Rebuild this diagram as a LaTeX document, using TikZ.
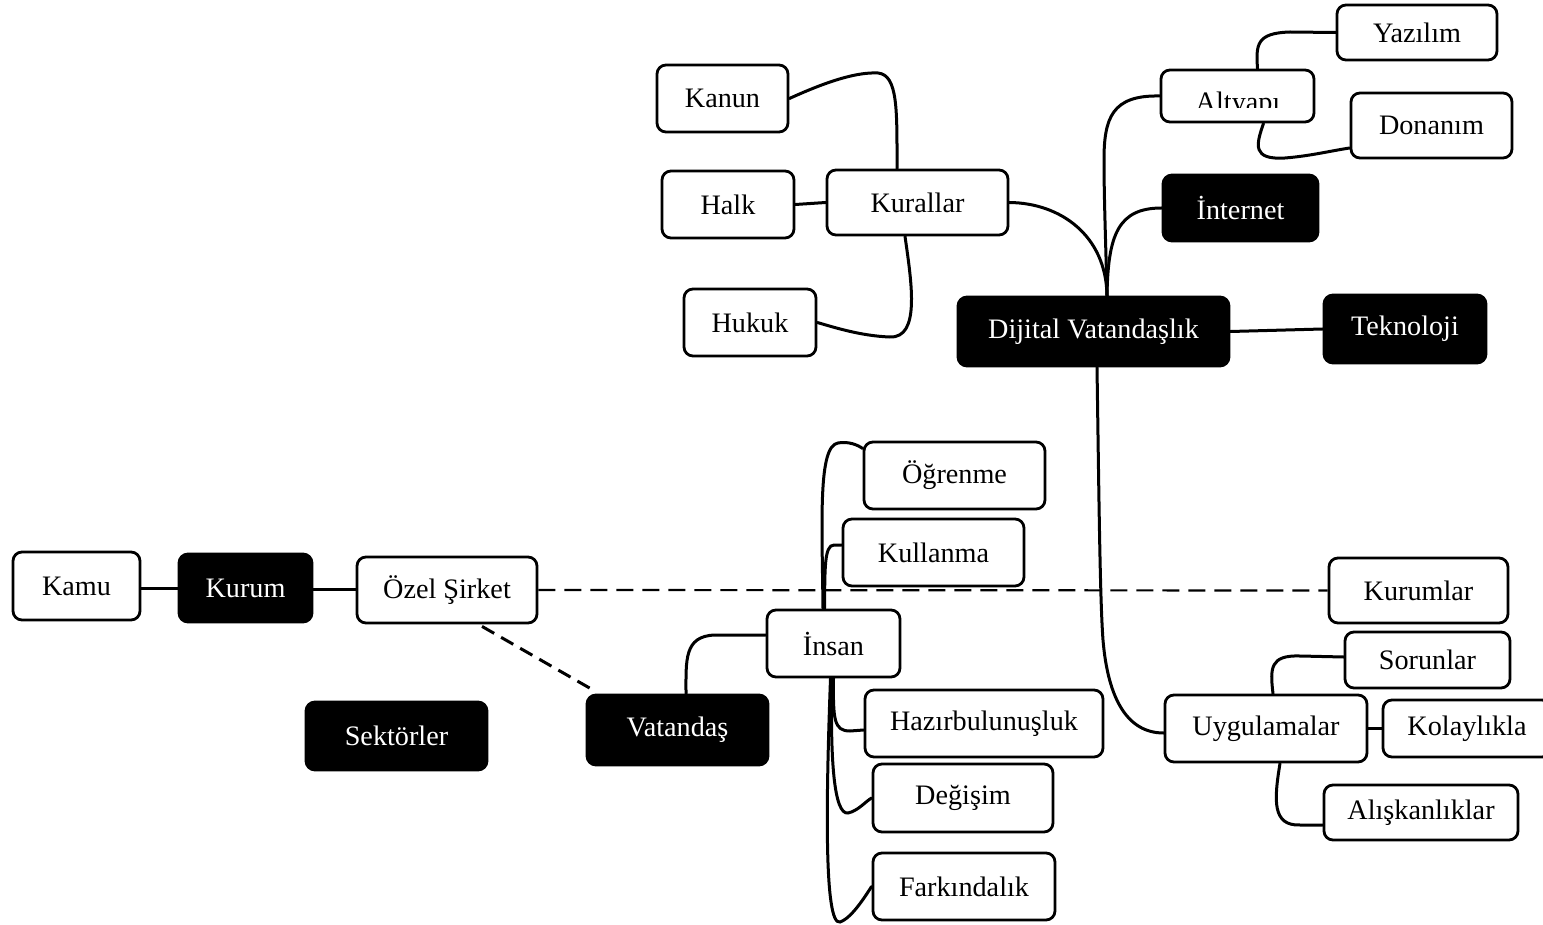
\documentclass[tikz,border=0pt]{standalone}
\usepackage{fontspec}
\setmainfont{Liberation Serif}
\usetikzlibrary{calc}
\begin{document}
\begin{tikzpicture}[x=1pt,y=-1pt,
  box/.style={draw=black, line width=2.8pt, rounded corners=9pt, fill=white,
    text=black, inner sep=0pt, font=\fontsize{28.2}{30}\selectfont},
  dark/.style={box, fill=black, text=white},
  link/.style={line width=3pt, line cap=round},
  dashlink/.style={line width=2.2pt, dash pattern=on 17pt off 9pt}]

\fill[white] (0,0) rectangle (1543,925);
\useasboundingbox (0,0) rectangle (1543,925);

% --- centre and branches on the right
\node[dark, minimum width=271pt, minimum height=69pt] (dijital) at (1093.5,331.5) {Dijital Vatandaşlık};
\node[dark, minimum width=162pt, minimum height=68pt] (teknoloji) at (1405,329) {Teknoloji};
\node[dark, minimum width=155pt, minimum height=66pt] (internet) at (1240.5,208) {İnternet};
\node[box, minimum width=153pt, minimum height=52pt] (altyapi) at (1237.5,96) {};
\begin{scope}
  \clip (1161,70) rectangle (1314,108);
  \node[font=\fontsize{28.2}{30}\selectfont, anchor=base, inner sep=0pt] (altyapitext) at (1238,112) {Altyapı};
\end{scope}
\node[box, minimum width=160pt, minimum height=55pt] (yazilim) at (1417,32.5) {Yazılım};
\node[box, minimum width=161pt, minimum height=65pt] (donanim) at (1431.5,125.5) {Donanım};

% --- rules
\node[box, minimum width=181pt, minimum height=65pt] (kurallar) at (917.5,202.5) {Kurallar};
\node[box, minimum width=131pt, minimum height=67pt] (kanun) at (722.5,98.5) {Kanun};
\node[box, minimum width=132pt, minimum height=67pt] (halk) at (728,204.5) {Halk};
\node[box, minimum width=132pt, minimum height=67pt] (hukuk) at (750,322.5) {Hukuk};

% --- applications
\node[box, minimum width=202pt, minimum height=67pt] (uyg) at (1266,728.5) {Uygulamalar};
\node[box, minimum width=179pt, minimum height=65pt] (kurumlar) at (1418.5,590.5) {Kurumlar};
\node[box, minimum width=165pt, minimum height=56pt] (sorunlar) at (1427.5,660) {Sorunlar};
\node[box, minimum width=168pt, minimum height=57pt] (kolay) at (1467,728.5) {Kolaylıkla};
\node[box, minimum width=194pt, minimum height=55pt] (alis) at (1421,812.5) {Alışkanlıklar};

% --- people
\node[box, minimum width=133pt, minimum height=67pt] (insan) at (833.5,643.5) {İnsan};
\node[box, minimum width=181pt, minimum height=67pt] (ogrenme) at (954.5,475.5) {Öğrenme};
\node[box, minimum width=181pt, minimum height=67pt] (kullanma) at (933.5,552.5) {Kullanma};
\node[box, minimum width=238pt, minimum height=67pt] (hazir) at (984,723.5) {Hazırbulunuşluk};
\node[box, minimum width=180pt, minimum height=68pt] (degisim) at (963,798) {Değişim};
\node[box, minimum width=182pt, minimum height=67pt] (farkindalik) at (964,886.5) {Farkındalık};

% --- sectors
\node[box, minimum width=127pt, minimum height=68pt] (kamu) at (76.5,586) {Kamu};
\node[dark, minimum width=133pt, minimum height=68pt] (kurum) at (245.5,588) {Kurum};
\node[box, minimum width=180pt, minimum height=66pt] (ozel) at (447,590) {Özel Şirket};
\node[dark, minimum width=181pt, minimum height=68pt] (sektorler) at (396.5,736) {Sektörler};
\node[dark, minimum width=181pt, minimum height=70pt] (vatandas) at (677.5,730) {Vatandaş};

% ================= connectors
% centre
\draw[link] (dijital.east) -- (teknoloji.west);
\draw[link] ($(dijital.north)+(13.5,0)$) .. controls (1106,235) and (1060,203) .. (kurallar.east);
\draw[link] ($(dijital.north)+(13.5,0)$) .. controls (1108,235) and (1118,208) .. (internet.west);
\draw[link] ($(dijital.north)+(13.5,0)$) .. controls (1106,250) and (1104,200) .. (1104,160)
   .. controls (1104,118) and (1112,95) .. (altyapi.west);
\draw[link] ($(altyapi.north)+(20,0)$) .. controls (1256,45) and (1256,33) .. (1290,32) -- (yazilim.west);
\draw[link] ($(altyapi.south)+(26,0)$) .. controls (1256,145) and (1252,160) .. (1285,158)
   .. controls (1310,156) and (1330,151) .. ($(donanim.west)+(0,22.5)$);

% rules
\draw[link] (kanun.east) .. controls (830,80) and (858,72) .. (878,73)
   .. controls (898,75) and (897,110) .. ($(kurallar.north)+(-20.5,0)$);
\draw[link] (halk.east) -- (kurallar.west);
\draw[link] ($(kurallar.south)+(-12.5,0)$) .. controls (912,285) and (920,338) .. (890,337)
   .. controls (862,336) and (836,328) .. (hukuk.east);

% applications
\draw[link] ($(dijital.south)+(3.5,0)$) .. controls (1099,500) and (1100,600) .. (1103,640)
   .. controls (1108,700) and (1128,733) .. ($(uyg.west)+(0,4.5)$);
\draw[link] ($(uyg.north)+(7,0)$) .. controls (1270,668) and (1270,655) .. (1300,656) -- ($(sorunlar.west)+(0,-3)$);
\draw[link] (uyg.east) -- (kolay.west);
\draw[link] ($(uyg.south)+(14,0)$) .. controls (1274,800) and (1272,826) .. (1300,825) -- ($(alis.west)+(0,12.5)$);

% people
\draw[link] ($(vatandas.north)+(8.5,0)$) .. controls (686,660) and (684,636) .. (715,635) -- ($(insan.west)+(0,-8.5)$);
\draw[link] ($(insan.north)+(-10.5,0)$) .. controls (822,520) and (818,446) .. (838,443)
   .. controls (848,441) and (858,445) .. ($(ogrenme.west)+(0,-27)$);
\draw[link] ($(insan.north)+(-9,0)$) .. controls (825,570) and (824,545) .. (834,545) -- ($(kullanma.west)+(0,-7.5)$);
\draw[link] (insan.south) .. controls (833,720) and (834,731) .. (850,731) -- ($(hazir.west)+(0,6.5)$);
\draw[link] ($(insan.south)+(-1.5,0)$) .. controls (830,760) and (834,815) .. (848,813)
   .. controls (858,811) and (866,801) .. (degisim.west);
\draw[link] ($(insan.south)+(-3,0)$) .. controls (826,800) and (824,926) .. (840,922)
   .. controls (852,918) and (866,895) .. (farkindalik.west);

% sectors
\draw[link] ($(kamu.east)+(0,2)$) -- (kurum.west);
\draw[link] ($(kurum.east)+(0,1)$) -- ($(ozel.west)+(0,-1)$);
\draw[dashlink] (ozel.east) -- (kurumlar.west);
\draw[line width=3pt, dash pattern=on 14pt off 8pt] ($(ozel.south)+(35,2)$) -- ($(vatandas.north west)+(5,-5)$);
\end{tikzpicture}
\end{document}
